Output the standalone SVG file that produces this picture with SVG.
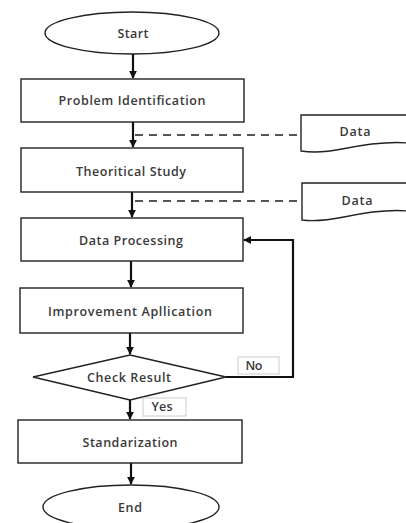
<svg xmlns="http://www.w3.org/2000/svg" width="406" height="523" viewBox="0 0 406 523">
<style>
.shape{fill:#fff;stroke:#222;stroke-width:1.4}
.lbl{fill:#fff;stroke:#ccc;stroke-width:1}
.t{font-family:"Open Sans","Liberation Sans",sans-serif;font-size:12.5px;font-weight:600;fill:#3a3a3a;text-anchor:middle;dominant-baseline:central}
.c{fill:none;stroke:#111;stroke-width:2.2}
.d{fill:none;stroke:#555;stroke-width:2;stroke-dasharray:8,6}
</style>
<defs>
<marker id="ah" viewBox="0 0 10 10" refX="9" refY="5" markerWidth="3.6" markerHeight="3.6" orient="auto" markerUnits="strokeWidth">
<path d="M0,0 L10,5 L0,10 z" fill="#111"/>
</marker>
</defs>
<rect width="406" height="523" fill="#fff"/>
<g id="connectors">
<line class="c" x1="133" y1="54" x2="133" y2="78" marker-end="url(#ah)"/>
<line class="c" x1="133" y1="122" x2="133" y2="147" marker-end="url(#ah)"/>
<line class="c" x1="132" y1="192" x2="132" y2="217" marker-end="url(#ah)"/>
<line class="c" x1="131" y1="261" x2="131" y2="287" marker-end="url(#ah)"/>
<line class="c" x1="130" y1="333" x2="130" y2="354" marker-end="url(#ah)"/>
<line class="c" x1="130" y1="400" x2="130" y2="419" marker-end="url(#ah)"/>
<line class="c" x1="131" y1="463" x2="131" y2="484" marker-end="url(#ah)"/>
<polyline class="c" points="226,377 293,377 293,240 244,240" marker-end="url(#ah)"/>
<line class="d" x1="135" y1="135" x2="300" y2="135"/>
<line class="d" x1="135" y1="201" x2="302" y2="201"/>
</g>
<g id="start">
<ellipse class="shape" cx="132" cy="33" rx="87" ry="21"/>
<text class="t" x="133" y="33" textLength="31" lengthAdjust="spacing">Start</text>
</g>
<g id="problem">
<rect class="shape" x="21" y="79" width="223" height="43"/>
<text class="t" x="132" y="100" textLength="147" lengthAdjust="spacing">Problem Identification</text>
</g>
<g id="data1">
<path class="shape" d="M301,115 L408,115 L408,143 C385,141 362,145 342,149 C322,153 308,152 301,151 Z"/>
<text class="t" x="355" y="131" textLength="31" lengthAdjust="spacing">Data</text>
</g>
<g id="theory">
<rect class="shape" x="21" y="148" width="222" height="44"/>
<text class="t" x="131" y="171" textLength="110" lengthAdjust="spacing">Theoritical Study</text>
</g>
<g id="data2">
<path class="shape" d="M302,183 L408,183 L408,211 C385,209 363,213 344,217 C324,221 310,221 302,220 Z"/>
<text class="t" x="357" y="200" textLength="31" lengthAdjust="spacing">Data</text>
</g>
<g id="processing">
<rect class="shape" x="21" y="218" width="222" height="43"/>
<text class="t" x="131" y="240" textLength="104" lengthAdjust="spacing">Data Processing</text>
</g>
<g id="improvement">
<rect class="shape" x="20" y="288" width="223" height="45"/>
<text class="t" x="130" y="311" textLength="164" lengthAdjust="spacing">Improvement Apllication</text>
</g>
<g id="check">
<polygon class="shape" points="130,355 226,377 130,400 33,377"/>
<text class="t" x="129" y="377" textLength="84" lengthAdjust="spacing">Check Result</text>
</g>
<g id="no-label">
<rect class="lbl" x="238" y="357" width="41" height="17"/>
<text class="t" x="254" y="365" textLength="17" lengthAdjust="spacing">No</text>
</g>
<g id="yes-label">
<rect class="lbl" x="143" y="398" width="43" height="18"/>
<text class="t" x="162" y="406" textLength="21" lengthAdjust="spacing">Yes</text>
</g>
<g id="standard">
<rect class="shape" x="18" y="420" width="224" height="43"/>
<text class="t" x="130" y="442" textLength="95" lengthAdjust="spacing">Standarization</text>
</g>
<g id="end">
<ellipse class="shape" cx="131" cy="507" rx="88" ry="22"/>
<text class="t" x="130" y="507" textLength="24" lengthAdjust="spacing">End</text>
</g>
</svg>
